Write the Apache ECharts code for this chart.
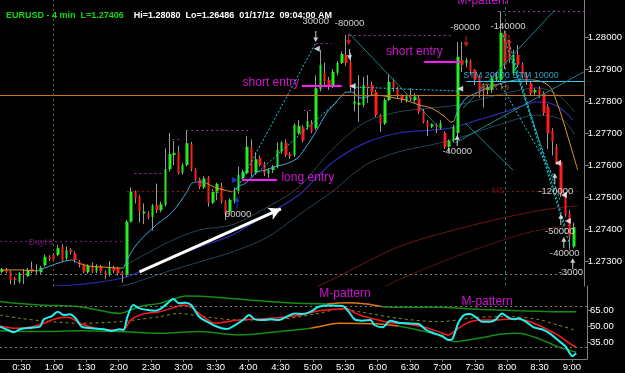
<!DOCTYPE html>
<html><head><meta charset="utf-8">
<script src="https://cdn.jsdelivr.net/npm/echarts@6/dist/echarts.min.js"></script>
<style>html,body{margin:0;padding:0;background:#000;}#c{width:625px;height:373px;}</style>
</head><body><div id="c"></div>
<script>
// ---------- DATA ----------
const barStart = 12, barStep = 4; // first bar 0:12, 4-minute bars (minutes after midnight)
const opens = [1.27266,1.27274,1.27267,1.27246,1.27235,1.27262,1.27253,1.27275,1.27268,1.27265,
1.27287,1.27313,1.27320,1.27319,1.27345,1.27308,1.27334,1.27324,1.27298,1.27288,
1.27265,1.27285,1.27268,1.27282,1.27266,1.27257,1.27280,1.27278,1.27264,1.27256,
1.27423,1.27517,1.27499,1.27449,1.27449,1.27438,1.27475,1.27459,1.27475,1.27587,
1.27631,1.27638,1.27576,1.27600,1.27665,1.27587,1.27555,1.27530,1.27561,1.27482,
1.27513,1.27534,1.27485,1.27454,1.27488,1.27517,1.27558,1.27574,1.27655,1.27576,
1.27621,1.27603,1.27574,1.27584,1.27595,1.27642,1.27670,1.27634,1.27631,1.27699,
1.27718,1.27718,1.27730,1.27715,1.27837,1.27887,1.27866,1.27844,1.27888,1.27919,
1.27944,1.27922,1.27790,1.27788,1.27788,1.27850,1.27850,1.27829,1.27756,1.27730,
1.27803,1.27860,1.27840,1.27817,1.27800,1.27819,1.27803,1.27808,1.27769,1.27735,
1.27720,1.27725,1.27715,1.27700,1.27657,1.27675,1.27700,1.27928,1.27918,1.27926,
1.27897,1.27876,1.27850,1.27834,1.27834,1.27866,1.27866,1.28011,1.27975,1.27887,
1.27944,1.27913,1.27881,1.27855,1.27827,1.27838,1.27824,1.27782,1.27709,1.27657,
1.27610,1.27512,1.27449,1.27345];
const closes = [1.27274,1.27266,1.27241,1.27241,1.27262,1.27258,1.27272,1.27267,1.27272,1.27279,
1.27313,1.27306,1.27303,1.27340,1.27303,1.27334,1.27328,1.27303,1.27288,1.27267,
1.27285,1.27267,1.27285,1.27268,1.27258,1.27278,1.27269,1.27262,1.27258,1.27423,
1.27517,1.27496,1.27454,1.27454,1.27437,1.27473,1.27459,1.27477,1.27587,1.27634,
1.27638,1.27574,1.27600,1.27668,1.27587,1.27555,1.27532,1.27558,1.27482,1.27517,
1.27541,1.27485,1.27447,1.27491,1.27520,1.27569,1.27579,1.27657,1.27574,1.27618,
1.27600,1.27574,1.27584,1.27595,1.27647,1.27670,1.27631,1.27628,1.27725,1.27722,
1.27676,1.27737,1.27704,1.27840,1.27913,1.27860,1.27844,1.27891,1.27919,1.27947,
1.27919,1.27844,1.27800,1.27795,1.27850,1.27840,1.27827,1.27756,1.27730,1.27803,
1.27860,1.27840,1.27817,1.27803,1.27814,1.27808,1.27814,1.27767,1.27735,1.27720,
1.27727,1.27720,1.27730,1.27657,1.27675,1.27719,1.27938,1.27913,1.27928,1.27892,
1.27866,1.27824,1.27829,1.27844,1.27871,1.27876,1.28013,1.27913,1.27928,1.27944,
1.27913,1.27881,1.27860,1.27824,1.27834,1.27819,1.27762,1.27699,1.27673,1.27605,
1.27512,1.27444,1.27376,1.27406];
const highs = [1.27278,1.27278,1.27270,1.27250,1.27266,1.27275,1.27278,1.27298,1.27290,1.27285,
1.27320,1.27318,1.27325,1.27350,1.27352,1.27345,1.27340,1.27330,1.27303,1.27292,
1.27290,1.27295,1.27290,1.27288,1.27270,1.27300,1.27285,1.27282,1.27268,1.27428,
1.27530,1.27520,1.27505,1.27480,1.27455,1.27478,1.27542,1.27485,1.27652,1.27700,
1.27675,1.27660,1.27605,1.27709,1.27672,1.27590,1.27560,1.27565,1.27565,1.27525,
1.27545,1.27545,1.27490,1.27495,1.27530,1.27595,1.27585,1.27690,1.27680,1.27640,
1.27630,1.27610,1.27590,1.27600,1.27670,1.27675,1.27680,1.27640,1.27730,1.27740,
1.27725,1.27768,1.27740,1.27880,1.27960,1.27920,1.27875,1.27900,1.27925,1.27955,
1.28006,1.27950,1.27845,1.27881,1.27875,1.27881,1.27860,1.27835,1.27760,1.27810,
1.27885,1.27870,1.27845,1.27820,1.27820,1.27840,1.27825,1.27815,1.27775,1.27740,
1.27730,1.27730,1.27740,1.27705,1.27680,1.27725,1.27985,1.27985,1.27935,1.27930,
1.27900,1.27880,1.27855,1.27850,1.27880,1.27890,1.28080,1.28020,1.27990,1.27960,
1.27975,1.27920,1.27890,1.27860,1.27840,1.27845,1.27830,1.27790,1.27715,1.27665,
1.27615,1.27515,1.27460,1.27420];
const lows = [1.27262,1.27262,1.27228,1.27225,1.27230,1.27228,1.27250,1.27262,1.27260,1.27260,
1.27283,1.27300,1.27298,1.27315,1.27298,1.27300,1.27320,1.27295,1.27280,1.27262,
1.27260,1.27262,1.27262,1.27262,1.27245,1.27252,1.27262,1.27255,1.27232,1.27250,
1.27420,1.27480,1.27420,1.27415,1.27430,1.27395,1.27450,1.27452,1.27470,1.27580,
1.27600,1.27570,1.27570,1.27595,1.27580,1.27550,1.27525,1.27525,1.27470,1.27478,
1.27490,1.27480,1.27428,1.27445,1.27480,1.27510,1.27550,1.27570,1.27565,1.27570,
1.27595,1.27565,1.27560,1.27575,1.27590,1.27635,1.27625,1.27620,1.27625,1.27695,
1.27670,1.27710,1.27700,1.27710,1.27830,1.27850,1.27835,1.27840,1.27880,1.27915,
1.27910,1.27830,1.27767,1.27735,1.27780,1.27794,1.27815,1.27750,1.27703,1.27725,
1.27800,1.27830,1.27810,1.27795,1.27795,1.27800,1.27795,1.27760,1.27730,1.27690,
1.27715,1.27700,1.27710,1.27650,1.27640,1.27670,1.27690,1.27890,1.27905,1.27880,
1.27850,1.27810,1.27780,1.27820,1.27825,1.27860,1.27860,1.27900,1.27920,1.27880,
1.27905,1.27870,1.27850,1.27815,1.27820,1.27810,1.27755,1.27650,1.27630,1.27600,
1.27500,1.27438,1.27335,1.27340];

// fast MA, drawn blue while rising and orange while flat/falling: [minute, price]
const fastMaBlue = [
 [[44.3,1.27269],[56.3,1.27284],[67.5,1.27297],[76.7,1.27303],[82.3,1.27294]],
 [[124.9,1.27278],[133.3,1.27334],[142.5,1.27372],[155.5,1.27413],[170.3,1.27453],[183.3,1.27513],[188.9,1.27544],[195.4,1.27547],[201.8,1.27544]],
 [[225.9,1.27516],[232.4,1.27534],[238.9,1.27544],[249.1,1.27578],[257.5,1.27584],[264.9,1.27594],[272.3,1.27600],[280.6,1.27609],[288.0,1.27625],[292.7,1.27647],[299.2,1.27678],[304.7,1.27709],[314.0,1.27763],[320.5,1.27788],[327.0,1.27813],[332.5,1.27828],[337.2,1.27828],[346.4,1.27809],[355.7,1.27819]],
 [[432.6,1.27738],[436.3,1.27772],[443.7,1.27809],[453.0,1.27825],[466.0,1.27844],[480.8,1.27859],[491.9,1.27866],[505.8,1.27866]]
];
const fastMaOrange = [
 [[10,1.27272],[28.5,1.27272],[44.3,1.27269]],
 [[82.3,1.27294],[93.4,1.27284],[107.3,1.27281],[119.4,1.27278],[124.9,1.27278]],
 [[201.8,1.27544],[209.3,1.27531],[218.5,1.27522],[225.9,1.27516]],
 [[355.7,1.27819],[366.8,1.27816],[377.9,1.27809],[387.2,1.27803],[399.3,1.27788],[411.3,1.27778],[424.3,1.27750],[429.8,1.27734],[432.6,1.27738]],
 [[505.8,1.27866],[515.1,1.27859],[522.5,1.27841],[529.0,1.27788],[534.6,1.27731],[540.1,1.27669],[544.8,1.27616],[547.5,1.27584]]
];
const midMa = [[59.1,1.27222],[77.7,1.27225],[102.7,1.27234],[124.0,1.27247],[139.8,1.27266],[164.8,1.27303],[195.4,1.27344],[225.9,1.27381],[257.5,1.27444],[288.0,1.27506],[318.6,1.27606],[350.1,1.27669],[380.7,1.27700],[411.3,1.27709],[429.8,1.27716],[454.9,1.27741],[479.9,1.27766],[504.0,1.27794],[513.3,1.27797],[526.2,1.27788],[535.5,1.27766],[542.9,1.27741]];
const bandUpper = [[127.7,1.27288],[164.8,1.27356],[195.4,1.27397],[225.9,1.27413],[257.5,1.27466],[288.0,1.27531],[318.6,1.27647],[350.1,1.27734],[380.7,1.27766],[411.3,1.27778],[436.3,1.27788],[473.4,1.27819],[510.5,1.27841],[529.0,1.27819],[544.8,1.27766]];
const bandLower = [[59.1,1.27197],[102.7,1.27209],[127.7,1.27225],[164.8,1.27266],[195.4,1.27297],[225.9,1.27328],[257.5,1.27372],[288.0,1.27444],[318.6,1.27516],[350.1,1.27600],[380.7,1.27641],[411.3,1.27663],[436.3,1.27684],[473.4,1.27725],[510.5,1.27756],[533.6,1.27741],[544.8,1.27694]];
const slowMa1 = [[297.3,1.27209],[318.6,1.27241],[380.7,1.27344],[442.8,1.27406],[504.0,1.27453],[535.5,1.27469],[547.5,1.27472]];
const slowMa2 = [[362.2,1.27209],[380.7,1.27241],[442.8,1.27325],[504.0,1.27391],[544.8,1.27413]];

// levels [fromMinute, toMinute, price]
const purpleLevels = [[473.4,554,1.28081],[334.4,431.7,1.28006],[303.8,318.6,1.27981],[183.3,243.6,1.27709],[170.3,179.6,1.27681],[135.1,160.1,1.27575],[292.7,300.1,1.27772]];
const dayHiLevel = [10,124,1.27363];
const adrHiLevel = [10,554,1.27819];
const stmLevel = [444,554,1.27863];
const m5Level = [128,548,1.27519];
const lowLevel = [10,554,1.27259];
const sessionMinutes = [60,480];
// lines [[t1,p1],[t2,p2]]
const trendLines = [[[334.4,1.28013],[417.8,1.27719]],[[442.8,1.27731],[487.3,1.27584]],[[433.5,1.27669],[553.1,1.27891]],[[441.0,1.27778],[526.2,1.28084]]];
const tradeLines = [[[229.7,1.27522],[303.8,1.27981]],[[241.7,1.27553],[325.1,1.27803]],[[337.2,1.27844],[436.3,1.27831]],
 [[478.0,1.28006],[530.9,1.27491]],[[482.7,1.27991],[535.5,1.27413]],[[487.3,1.27928],[540.1,1.27350]],[[473.4,1.27866],[527.2,1.27553]]];
const entryLines = [[290.8,327.9,1.27847],[404.8,438.2,1.27922],[235.2,267.6,1.27553]];
const trendArrow = [[139.8,1.27266],[271.4,1.27463]];
// arrows [minute, price]
const downArrowsWhite = [[303.8,1.27984],[335.3,1.27928]];
const downArrowsRed = [[334.4,1.27975],[443.7,1.27969],[483.6,1.27972]];
const upArrowsWhite = [[435.4,1.27694],[526.2,1.27575],[531.8,1.27447],[534.6,1.27375],[542.9,1.27309]];
const upArrowsBlue = [[230.6,1.27500]];
const leftMarkers = [[304.7,1.27963],[338.1,1.27847],[438.2,1.27838],[529.0,1.27606],[534.6,1.27506],[538.3,1.27425]];
const rightMarkers = [[228.7,1.27553]];
// text notes [minute, price, text]
const pnlNotes = [[303.8,1.28050,'30000'],[335.3,1.28041,'-80000'],[231.5,1.27447,'60000'],[442.8,1.28031,'-80000'],[482.7,1.28034,'-140000'],[435.4,1.27644,'-40000'],[527.2,1.27519,'-120000'],[530.9,1.27394,'-50000'],[535.5,1.27325,'-40000'],[541.1,1.27263,'-3000']];
const entryNotes = [[262.1,1.27856,'short entry'],[395.6,1.27953,'short entry'],[296.4,1.27559,'long entry'],[459.5,1.28114,'M-pattern']];
const levelNotes = [[48,1.27359,'DayHi','#8a1a8a'],[473.4,1.27519,'M5','#8b1010'],[469.7,1.27841,'ADR Hi','#c87a20'],[485.4,1.27881,'STM 20000 STM 10000','#3cc4ec']];
const lastPrice = 1.27406;
const priceTicks = [1.273,1.274,1.275,1.276,1.277,1.278,1.279,1.28];

// oscillator [minute, value]
const oscFast = [[10,50.0],[17.4,46.9],[22.9,44.7],[28.5,47.6],[39.5,49.1],[46.9,50.0],[50.6,56.9],[58.0,60.0],[63.5,64.1],[69.1,61.0],[74.6,61.6],[80.1,57.9],[85.7,50.0],[94.9,48.5],[106.0,47.6],[113.4,46.0],[120.8,47.6],[124.5,46.9],[128.1,59.4],[133.7,70.4],[139.2,67.2],[146.6,65.7],[154.0,65.0],[159.5,67.2],[165.1,71.9],[170.6,76.0],[176.1,71.9],[181.7,72.5],[187.2,70.4],[194.6,59.4],[202.0,54.7],[211.2,50.0],[220.4,47.9],[227.8,51.6],[235.2,56.3],[240.8,61.0],[246.3,56.9],[253.7,56.3],[261.1,56.9],[268.4,56.3],[275.8,59.4],[283.2,62.5],[290.6,61.9],[298.0,64.1],[305.4,68.8],[316.4,70.0],[327.5,69.4],[333.1,64.1],[338.6,56.9],[346.0,55.7],[353.4,56.3],[357.0,51.6],[364.4,49.4],[371.8,55.7],[379.2,53.8],[386.6,53.2],[397.7,52.6],[405.0,46.9],[412.4,43.8],[419.8,41.3],[425.4,37.6],[429.0,38.2],[434.6,53.2],[440.1,61.0],[445.7,61.9],[451.2,58.8],[456.7,54.7],[464.1,54.7],[469.7,56.9],[475.2,62.5],[480.7,58.8],[486.3,56.9],[490.0,57.9],[497.3,54.7],[504.7,49.4],[512.1,47.6],[519.5,43.8],[526.9,37.5],[534.3,31.3],[540.5,22.5],[544,25.12]];
const oscSlow = [[10,50.7],[24.8,48.5],[39.5,50.0],[50.6,53.2],[58.0,56.3],[69.1,58.8],[76.5,57.9],[83.8,53.2],[98.6,48.5],[113.4,46.9],[124.5,47.6],[131.8,56.9],[142.9,61.9],[157.7,64.1],[168.8,67.2],[179.8,70.4],[187.2,68.2],[198.3,59.4],[209.4,53.2],[220.4,54.7],[231.5,56.3],[246.3,56.9],[261.1,57.9],[275.8,59.4],[290.6,61.3],[305.4,65.0],[320.1,66.3],[331.2,67.2],[338.6,63.2],[346.0,60.0],[360.7,56.3],[371.8,53.8],[386.6,52.6],[401.4,50.0],[416.1,45.4],[425.4,42.2],[434.6,48.5],[445.7,54.7],[456.7,56.3],[467.8,56.3],[478.9,56.9],[490.0,56.9],[501.0,54.7],[512.1,50.0],[526.9,42.2],[538.0,34.4],[544,30.5]];
const oscMid = [[10,61.0],[28.5,57.9],[46.9,55.7],[83.8,53.2],[120.8,54.7],[139.2,56.9],[157.7,59.4],[176.1,62.5],[194.6,60.0],[231.5,56.3],[268.4,56.9],[305.4,62.5],[323.8,66.3],[342.3,64.1],[379.2,57.9],[416.1,54.7],[453.0,58.8],[482.6,59.4],[508.4,56.9],[526.9,51.6],[544,46.5]];
const oscUpperGreen = [[[10,73.5],[46.9,70.4],[83.8,68.8],[120.8,62.5],[139.2,68.8],[157.7,71.9],[183.5,78.8],[213.1,77.5],[250.0,74.4],[286.9,71.9],[312.7,71.3]],[[364.4,68.8],[379.2,68.2],[416.1,68.2],[453.0,66.3],[490.0,65.0],[526.9,64.1],[544,64.1]]];
const oscUpperOrange = [[312.7,71.3],[331.2,72.5],[349.7,71.3],[364.4,68.8]];
const oscLowerGreen = [[[10,46.3],[46.9,45.4],[83.8,46.3],[120.8,45.4],[157.7,43.8],[194.6,45.4],[231.5,42.2],[268.4,45.4],[298.0,48.5]],[[379.2,50.7],[397.7,46.9],[416.1,42.2],[430.9,36.0],[453.0,39.1],[475.2,43.2],[490.0,43.8],[508.4,39.1],[526.9,31.3],[544,26.0]]];
const oscLowerOrange = [[298.0,48.5],[305.4,50.0],[323.8,53.2],[360.7,52.6],[379.2,50.7]];
const oscLevels = [69.5,31];
const oscTicks = [35,50,65];
const oscLast = 25.12;
const oscNotes = [[329.7,80.7,'M-pattern'],[461.4,73.2,'M-pattern']];
const timeTicks = [30,60,90,120,150,180,210,240,270,300,330,360,390,420,450,480,510,540];

// ---------- CHART ----------
const FONT = '"Liberation Sans", Arial, sans-serif';
const T_MIN = 10, T_MAX = 554;
const chart = echarts.init(document.getElementById('c'));
const times = opens.map((_, i) => barStart + i * barStep);
const wickData = opens.map((o, i) => [times[i], o, closes[i], lows[i], highs[i]]);
const bodyData = opens.map((o, i) => [times[i], o, closes[i], Math.min(o, closes[i]), Math.max(o, closes[i])]);
const fmtTime = m => Math.floor(m / 60) + ':' + String(m % 60).padStart(2, '0');

function seg(a, b, style) { return [{ coord: a, lineStyle: style }, { coord: b }]; }
function hseg(l, style) { return [{ coord: [l[0], l[2]], lineStyle: style }, { coord: [l[1], l[2]] }]; }
function lineSeries(data, color, width, extra) {
  return Object.assign({ type: 'line', data: data, showSymbol: false, smooth: 0.3, silent: true,
    lineStyle: { color: color, width: width }, xAxisIndex: 0, yAxisIndex: 0, z: 1 }, extra || {});
}
const DOWN = 'path://M4,0 L6,0 L6,8 L10,8 L5,14 L0,8 L4,8 Z';
const UP = 'path://M5,0 L10,6 L6,6 L6,14 L4,14 L4,6 L0,6 Z';
function markers(data, symbol, color, size, offset, rotate) {
  return { type: 'scatter', data: data, symbol: symbol, symbolSize: size, symbolOffset: offset || [0, 0],
    symbolRotate: rotate || 0, itemStyle: { color: color }, silent: true, z: 6, clip: false };
}
function notes(arr, color, size, yi) {
  return { type: 'scatter', xAxisIndex: yi || 0, yAxisIndex: yi || 0, symbolSize: 0, silent: true, z: 7, clip: false,
    data: arr.map(n => ({ value: [n[0], n[1]], label: { show: true, formatter: n[2], color: n[3] || color,
      fontSize: size, fontFamily: FONT, position: 'inside' } })) };
}

const series = [];
series.push(lineSeries(bandUpper, '#2a4257', 1));
series.push(lineSeries(bandLower, '#2a4257', 1));
series.push(lineSeries(midMa, '#2a2aa8', 1.2));
series.push(lineSeries(slowMa1, '#6e1414', 1));
series.push(lineSeries(slowMa2, '#5c1212', 1));
const mlData = [];
purpleLevels.forEach(l => mlData.push(hseg(l, { color: '#a030b0', type: [2, 3], width: 1 })));
mlData.push(hseg(dayHiLevel, { color: '#7a1a7a', type: [2, 3], width: 1 }));
mlData.push(hseg(adrHiLevel, { color: '#c8741c', type: 'solid', width: 1 }));
mlData.push(hseg(stmLevel, { color: '#38c8f0', type: 'solid', width: 1.2 }));
mlData.push(hseg(m5Level, { color: '#8a1a1a', type: [2, 3], width: 1 }));
mlData.push(hseg(lowLevel, { color: '#7a7a7a', type: [2, 3], width: 1 }));
trendLines.forEach(l => mlData.push(seg(l[0], l[1], { color: '#168888', type: 'solid', width: 1 })));
tradeLines.forEach(l => mlData.push(seg(l[0], l[1], { color: '#16d8e0', type: [2, 2], width: 1 })));
entryLines.forEach(l => mlData.push(hseg(l, { color: '#ff19ff', type: 'solid', width: 2 })));
mlData.push({ xAxis: sessionMinutes[0], lineStyle: { color: '#6a6a1e', type: [2, 3], width: 1 } });
mlData.push({ xAxis: sessionMinutes[1], lineStyle: { color: '#1f6f6f', type: [3, 3], width: 1 } });
series.push({ type: 'line', data: [], xAxisIndex: 0, yAxisIndex: 0, z: 2, silent: true,
  markLine: { silent: true, symbol: ['none', 'none'], animation: false, label: { show: false }, data: mlData } });
series.push({ type: 'line', data: [], xAxisIndex: 0, yAxisIndex: 0, z: 8, silent: true,
  markLine: { silent: true, symbol: ['none', 'arrow'], symbolSize: [10, 12], animation: false, label: { show: false },
    data: [seg(trendArrow[0], trendArrow[1], { color: '#ffffff', width: 3, type: 'solid' })] } });
fastMaBlue.forEach(s => series.push(lineSeries(s, '#4aa6dc', 1, { z: 4 })));
fastMaOrange.forEach(s => series.push(lineSeries(s, '#dc9a2c', 1, { z: 4 })));
series.push({ type: 'candlestick', data: wickData, barWidth: 1, z: 3, silent: true,
  itemStyle: { color: '#9a9a9a', color0: '#9a9a9a', borderColor: '#9a9a9a', borderColor0: '#9a9a9a', borderWidth: 1 } });
series.push({ type: 'candlestick', data: bodyData, barWidth: 3, z: 3, silent: true,
  itemStyle: { color: '#22ee22', color0: '#ff1c1c', borderColor: '#22ee22', borderColor0: '#ff1c1c', borderWidth: 0 },
  markLine: { silent: true, symbol: ['none', 'none'], animation: false,
    data: [{ yAxis: lastPrice, lineStyle: { opacity: 0 },
      label: { show: true, position: 'end', distance: 1, formatter: lastPrice.toFixed(5), color: '#000', backgroundColor: '#33ee33',
        padding: [2, 4, 1, 3], fontSize: 9.5, fontFamily: FONT } }] } });
series.push(markers(downArrowsWhite, DOWN, '#ffffff', [5, 11], [0, '-50%']));
series.push(markers(downArrowsRed, DOWN, '#ff2020', [5, 11], [0, '-50%']));
series.push(markers(upArrowsWhite, UP, '#ffffff', [5, 11], [0, '50%']));
series.push(markers(upArrowsBlue, UP, '#2040ff', [5, 11], [0, '50%']));
series.push(markers(leftMarkers, 'triangle', '#ffffff', 6, [0, 0], 90));
series.push(markers(rightMarkers, 'triangle', '#2040ff', 6, [0, 0], -90));
series.push(notes(pnlNotes, '#ffffff', 9.5));
series.push(notes(entryNotes, '#ff19ff', 12));
series.push(notes(levelNotes, '#ffffff', 9));

function oscLine(data, color, width, extra) {
  return Object.assign({ type: 'line', data: data, showSymbol: false, smooth: 0.3, silent: true, xAxisIndex: 1, yAxisIndex: 1,
    lineStyle: { color: color, width: width }, z: 3 }, extra || {});
}
oscUpperGreen.forEach(s => series.push(oscLine(s, '#128c12', 1.5)));
oscLowerGreen.forEach(s => series.push(oscLine(s, '#128c12', 1.5)));
series.push(oscLine(oscUpperOrange, '#e07818', 1.5));
series.push(oscLine(oscLowerOrange, '#e07818', 1.5));
series.push(oscLine(oscMid, '#8c8c1c', 1, { lineStyle: { color: '#8c8c1c', width: 1, type: [3, 3] } }));
series.push(oscLine(oscSlow, '#ff1a1a', 1.5, { z: 4 }));
series.push(oscLine(oscFast, '#22f0f0', 2, { z: 5,
  markLine: { silent: true, symbol: ['none', 'none'], animation: false,
    data: oscLevels.map(v => ({ yAxis: v, lineStyle: { color: '#7a7a7a', type: [2, 3], width: 1 }, label: { show: false } }))
      .concat([{ yAxis: oscLast, lineStyle: { opacity: 0 }, label: { show: true, position: 'end', distance: 1,
        formatter: oscLast.toFixed(2), color: '#000', backgroundColor: '#22f0f0', padding: [2, 10, 1, 4], fontSize: 9.5, fontFamily: FONT } }]) } }));
series.push(notes(oscNotes, '#ff19ff', 12, 1));

chart.setOption({
  backgroundColor: '#000',
  animation: false,
  title: { left: 1, top: 2, text: '{g|EURUSD - 4 min  L=1.27406}  {w|Hi=1.28080  Lo=1.26486  01/17/12  09:04:00 AM}',
    textStyle: { rich: { g: { color: '#12d812', fontSize: 9, fontFamily: FONT }, w: { color: '#ffffff', fontSize: 9, fontFamily: FONT } } } },
  grid: [
    { left: 0, top: 0, width: 587, height: 286 },
    { left: 0, top: 286, width: 587, height: 73 }
  ],
  xAxis: [
    { type: 'value', gridIndex: 0, min: T_MIN, max: T_MAX, axisLine: { show: false }, axisTick: { show: false }, axisLabel: { show: false }, splitLine: { show: false } },
    { type: 'value', gridIndex: 1, min: T_MIN, max: T_MAX, axisLine: { show: true, lineStyle: { color: '#808080' } },
      axisTick: { show: true, customValues: timeTicks, length: 3, lineStyle: { color: '#808080' } },
      axisLabel: { customValues: timeTicks, formatter: fmtTime, color: '#ffffff', fontSize: 9.5, fontFamily: FONT, margin: 3 },
      splitLine: { show: false } }
  ],
  yAxis: [
    { type: 'value', gridIndex: 0, position: 'right', min: 1.272219, max: 1.281156, scale: true,
      axisLine: { show: true, lineStyle: { color: '#808080' } },
      axisTick: { show: true, customValues: priceTicks, length: 4, lineStyle: { color: '#808080' } },
      axisLabel: { customValues: priceTicks, formatter: v => v.toFixed(5), color: '#ffffff', fontSize: 9.5, fontFamily: FONT, margin: 3 },
      splitLine: { show: false } },
    { type: 'value', gridIndex: 1, position: 'right', min: 19.7, max: 88.2,
      axisLine: { show: true, lineStyle: { color: '#808080' } },
      axisTick: { show: true, customValues: oscTicks, length: 4, lineStyle: { color: '#808080' } },
      axisLabel: { customValues: oscTicks, formatter: v => v.toFixed(2), color: '#ffffff', fontSize: 9.5, fontFamily: FONT, margin: 3 },
      splitLine: { show: false } }
  ],
  series: series
});
</script>
</body></html>
